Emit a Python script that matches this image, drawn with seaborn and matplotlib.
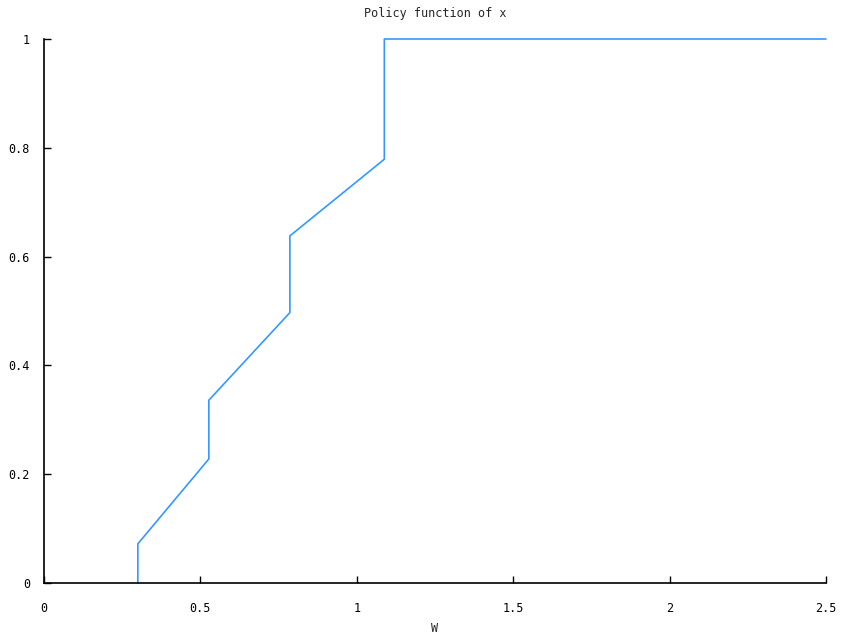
import matplotlib
matplotlib.use('Agg')
import matplotlib.pyplot as plt
import seaborn as sns
import pandas as pd

# policy function breakpoints
w_vals = [0.30, 0.30, 0.527, 0.527, 0.786, 0.786, 1.088, 1.088, 2.5]
x_vals = [0.0, 0.072, 0.228, 0.336, 0.497, 0.638, 0.779, 1.0, 1.0]

x_ticks = [0, 0.5, 1, 1.5, 2, 2.5]
x_tick_labels = ['0', '0.5', '1', '1.5', '2', '2.5']
y_ticks = [0, 0.2, 0.4, 0.6, 0.8, 1]
y_tick_labels = ['0', '0.2', '0.4', '0.6', '0.8', '1']

df = pd.DataFrame({'W': w_vals, 'x': x_vals})

sns.set_style('ticks')
plt.rcParams['font.family'] = ['DejaVu Sans Mono']
plt.rcParams['font.size'] = 8.5

fig = plt.figure(figsize=(8.42, 6.35), dpi=100)
ax = fig.add_axes([44 / 842, 1 - 583 / 635, 782 / 842, 544 / 635])

sns.lineplot(data=df, x='W', y='x', sort=False, estimator=None,
             color='#3399ff', linewidth=1.2, ax=ax, clip_on=False)

ax.set_xlim(0, 2.5)
ax.set_ylim(0, 1)
ax.set_xticks(x_ticks)
ax.set_xticklabels(x_tick_labels)
ax.set_yticks(y_ticks)
ax.set_yticklabels(y_tick_labels)
ax.tick_params(direction='in', length=5, width=1, colors='black', pad=14)
ax.tick_params(axis='y', pad=10)
ax.set_xlabel('W', fontsize=8.5, labelpad=5)
ax.set_ylabel('')
ax.set_title('Policy function of x', fontsize=8.5, pad=16)
sns.despine(ax=ax)
for s in ['left', 'bottom']:
    ax.spines[s].set_linewidth(1.2)
    ax.spines[s].set_color('black')

fig.savefig('out.png', dpi=100)
